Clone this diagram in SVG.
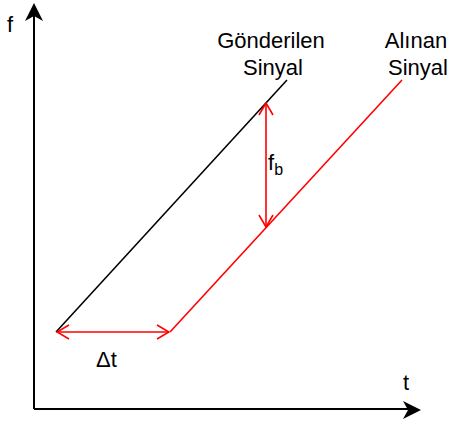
<svg xmlns="http://www.w3.org/2000/svg" width="450" height="426" viewBox="0 0 450 426">
<style>
text{font-family:"Liberation Sans",Arial,sans-serif;fill:#000;font-size:22px}
.ax{stroke:#000;stroke-width:2;fill:none}
.red{stroke:#ff0000;stroke-width:1.6;fill:none}
.blk{stroke:#000;stroke-width:1.6;fill:none}
</style>
<defs>
<marker id="open" viewBox="0 0 14 16" refX="13" refY="8" markerWidth="14" markerHeight="16" markerUnits="userSpaceOnUse" orient="auto-start-reverse">
<path d="M1,1 L13,8 L1,15" fill="none" stroke="#ff0000" stroke-width="1.6"/>
</marker>
</defs>
<g id="axes">
<path class="ax" d="M34,409 V14 M34,409 H412"/>
<path d="M34,3 L43,21 L34,16 L25,21 Z" fill="#000"/>
<path d="M421,410 L403,401 L408,410 L403,419 Z" fill="#000"/>
<text x="7" y="32">f</text>
<text x="403" y="390">t</text>
</g>
<g id="connectors">
<line class="blk" x1="56" y1="332" x2="287" y2="80"/>
<line class="red" x1="170" y1="332" x2="402" y2="80"/>
<line class="red" x1="57" y1="332" x2="169" y2="332" marker-start="url(#open)" marker-end="url(#open)"/>
<line class="red" x1="266" y1="103" x2="266" y2="227" marker-start="url(#open)" marker-end="url(#open)"/>
</g>
<g id="label-sent">
<text x="271" y="48" text-anchor="middle">Gönderilen</text>
<text x="273" y="75" text-anchor="middle">Sinyal</text>
</g>
<g id="label-received">
<text x="416" y="48" text-anchor="middle">Alınan</text>
<text x="418" y="75" text-anchor="middle">Sinyal</text>
</g>
<g id="label-fb">
<text x="268" y="170">f<tspan font-size="16" dy="5">b</tspan></text>
</g>
<g id="label-dt">
<text x="96" y="367">Δt</text>
</g>
</svg>
